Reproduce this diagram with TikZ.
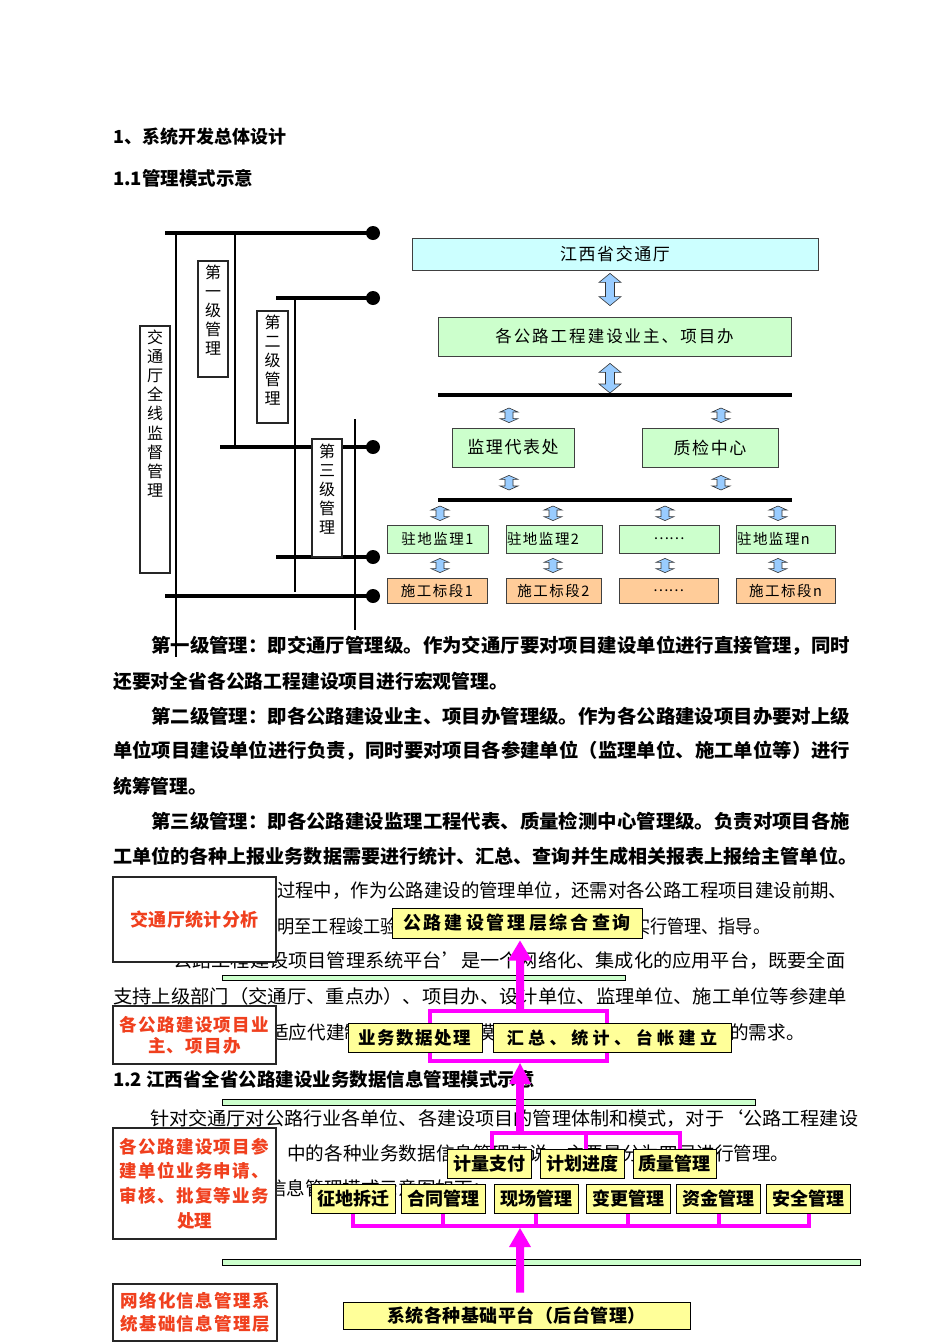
\documentclass[tikz,border=0pt]{standalone}
\usepackage{fontspec}
\setmainfont{Noto Sans CJK SC}
\usepackage{graphicx}
\usetikzlibrary{calc}
\pgfdeclarelayer{bot}
\pgfdeclarelayer{mid}
\pgfsetlayers{bot,mid,main}
\definecolor{cyanF}{HTML}{CCFFFF}
\definecolor{greenF}{HTML}{CCFFCC}
\definecolor{orangeF}{HTML}{FFCC99}
\definecolor{blueA}{HTML}{99CCFF}
\definecolor{yellowF}{HTML}{FFFF99}
\definecolor{magentaL}{HTML}{FF00FF}
\definecolor{redT}{HTML}{F0401E}
\newcommand\fsz[1]{\fontsize{#1pt}{#1pt}\selectfont}
\newcommand\fitw[2]{\resizebox{#1pt}{\height}{#2}}
\ExplSyntaxOn
\NewDocumentCommand\Spaced{O{2pt}m}{\tl_map_inline:nn{#2}{##1\kern#1\relax}\kern-#1\relax}
\ExplSyntaxOff
\newcommand\bluearr[5]{\draw[barr] let \p1=#1, \p2=#2 in (\x1,\y1) -- (\x1+#3,\y1-#5) -- (\x1+#4,\y1-#5) -- (\x1+#4,\y2+#5) -- (\x1+#3,\y2+#5) -- (\x1,\y2) -- (\x1-#3,\y2+#5) -- (\x1-#4,\y2+#5) -- (\x1-#4,\y1-#5) -- (\x1-#3,\y1-#5) -- cycle;}
\newcommand\magarr[5]{\fill[magentaL] let \p1=#1, \p2=#2 in (\x1,\y1) -- (\x1+#3,\y1-#4) -- (\x1+#5,\y1-#4) -- (\x1+#5,\y2) -- (\x1-#5,\y2) -- (\x1-#5,\y1-#4) -- (\x1-#3,\y1-#4) -- cycle;}
\tikzset{
  barr/.style={fill=blueA, draw=black!80, line width=0.6pt, line join=miter},
  bus/.style={line width=4pt},
  thinl/.style={line width=1.1pt},
  vbox/.style={draw=black!85, line width=1.3pt, fill=white, inner sep=0pt},
  vtxt/.style={inner sep=0pt, align=center, font=\fontsize{16pt}{19.2pt}\selectfont},
  ubox/.style={draw=black!75, line width=0.8pt, inner sep=0pt, font=\fsz{17}},
  zbox/.style={draw=black!75, line width=0.8pt, inner sep=0pt, minimum height=28pt, font=\fsz{14.5}, fill=greenF},
  sbox/.style={draw=black!75, line width=0.8pt, inner sep=0pt, minimum height=25pt, font=\fsz{14.5}, fill=orangeF},
  ybox/.style={draw=black, line width=1pt, fill=yellowF, inner sep=0pt, font=\bfseries\fsz{18}},
  wbox/.style={draw=black!85, line width=1.2pt, fill=white, inner sep=0pt, text=redT, align=center, minimum width=163pt},
  mline/.style={draw=magentaL, line width=4pt, line join=miter},
  gbar/.style={fill=greenF, draw=black, line width=0.7pt},
  txt/.style={inner sep=0pt, anchor=west},
  btxt/.style={txt, font=\bfseries\fsz{18.8}},
  rtxt/.style={txt, font=\fsz{18.6}}
}
\begin{document}
\begin{tikzpicture}[x=1pt,y=-1pt]
\useasboundingbox (0,0) rectangle (950,1344);

% ---------- text layer ----------
\begin{pgfonlayer}{bot}
\fill[white] (0,0) rectangle (950,1344);
\node[btxt] (m1) at (151,646) {\fitw{699}{第一级管理：即交通厅管理级。作为交通厅要对项目建设单位进行直接管理，同时}};
\node[btxt] (m2) at (113,681) {还要对全省各公路工程建设项目进行宏观管理。};
\node[btxt] (m3) at (151,716) {\fitw{699}{第二级管理：即各公路建设业主、项目办管理级。作为各公路建设项目办要对上级}};
\node[btxt] (m4) at (113,751) {\fitw{737}{单位项目建设单位进行负责，同时要对项目各参建单位（监理单位、施工单位等）进行}};
\node[btxt] (m5) at (113,786) {统筹管理。};
\node[btxt] (m6) at (151,821) {\fitw{699}{第三级管理：即各公路建设监理工程代表、质量检测中心管理级。负责对项目各施}};
\node[btxt] (m7) at (113,856) {\fitw{744}{工单位的各种上报业务数据需要进行统计、汇总、查询并生成相关报表上报给主管单位。}};

\node[rtxt] (n8) at (277,891) {\fitw{570}{过程中，作为公路建设的管理单位，还需对各公路工程项目建设前期、}};
\node[rtxt] (n9a) at (277,926) {\fitw{121}{明至工程竣工验}};
\node[rtxt] (n9b) at (633,926) {\fitw{137}{实行管理、指导。}};
\node[rtxt] (n10) at (173,961) {\fitw{672}{公路工程建设项目管理系统平台’是一个网络化、集成化的应用平台，既要全面}};
\node[rtxt] (n11) at (113,996) {\fitw{734}{支持上级部门（交通厅、重点办）、项目办、设计单位、监理单位、施工单位等参建单}};
\node[rtxt] (n12a) at (270,1032) {适应代建制};
\node[rtxt] (n12b) at (476,1032) {模};
\node[rtxt] (n12c) at (730,1032) {的需求。};
\node[txt, font=\bfseries\fsz{18.5}] (h3) at (113,1079) {1.2 江西省全省公路建设业务数据信息管理模式示意};
\node[rtxt] (n14) at (150,1119) {\fitw{708}{针对交通厅对公路行业各单位、各建设项目的管理体制和模式，对于‘公路工程建设}};
\node[rtxt] (n15) at (287,1154) {中的各种业务数据信息管理来说，主要是分为四层进行管理。};
\node[rtxt] (n16) at (268,1188) {信息管理模式示意图如下：};

\draw[gbar] (222,975) rectangle (625,980);
\draw[gbar] (222,1099) rectangle (755,1105);
\draw[gbar] (222,1259) rectangle (860,1265);
\end{pgfonlayer}

% ---------- headings ----------
\node[txt, font=\bfseries\fsz{18}] (h1) at (113,137) {1、系统开发总体设计};
\node[txt, font=\bfseries\fsz{18.5}] (h2) at (113,178) {1.1管理模式示意};

% ---------- upper left: levels ----------
\coordinate (w1) at (165,233); \coordinate (e1) at (373,233);
\coordinate (w2) at (276,298); \coordinate (e2) at (373,298);
\coordinate (w3) at (220,447); \coordinate (e3) at (373,447);
\coordinate (w4) at (276,557); \coordinate (e4) at (373,557);
\coordinate (w5) at (165,596); \coordinate (e5) at (373,596);
\coordinate (v1b) at (176,657);
\coordinate (v3b) at (295,592);
\coordinate (v4t) at (355,419); \coordinate (v4b) at (355,630);
\draw[thinl] (w1 -| v1b) -- (v1b);
\draw[thinl] (235,233) -- (235,447);
\draw[thinl] (w2 -| v3b) -- (v3b);
\draw[thinl] (v4t) -- (v4b);
\foreach \a in {1,...,5} {
  \draw[bus] (w\a) -- (e\a);
  \fill (e\a) circle (7pt);
}
\node[vbox, minimum width=30pt, minimum height=247pt] (vb0) at (155,449.5) {};
\node[vtxt, anchor=north] (vt0) at ($(vb0.north)+(0,4)$) {交\\通\\厅\\全\\线\\监\\督\\管\\理};
\node[vbox, minimum width=30pt, minimum height=116pt] (vb1) at (213,319) {};
\node[vtxt, anchor=north] (vt1) at ($(vb1.north)+(0,4)$) {第\\一\\级\\管\\理};
\node[vbox, minimum width=31pt, minimum height=112pt] (vb2) at (272.5,367) {};
\node[vtxt, anchor=north] (vt2) at ($(vb2.north)+(0,4)$) {第\\二\\级\\管\\理};
\node[vbox, minimum width=30pt, minimum height=118pt] (vb3) at (327,498) {};
\node[vtxt, anchor=north] (vt3) at ($(vb3.north)+(0,5)$) {第\\三\\级\\管\\理};

% ---------- upper right: organisation ----------
\node[ubox, fill=cyanF, minimum width=406pt, minimum height=32pt] (jxt) at (615,254) {\Spaced[1.6pt]{江西省交通厅}};
\node[ubox, fill=greenF, minimum width=353pt, minimum height=39pt, font=\fsz{16.5}] (gl) at (614.5,336.5) {\Spaced[2pt]{各公路工程建设业主、项目办}};
\coordinate (b1w) at (438,395); \coordinate (b1e) at (792,395);
\draw[bus] (b1w) -- (b1e);
\node[ubox, fill=greenF, minimum width=122pt, minimum height=39pt] (jlb) at (513,447.5) {\Spaced[1.6pt]{监理代表处}};
\node[ubox, fill=greenF, minimum width=136pt, minimum height=39pt] (zjz) at (710,447.5) {\Spaced[1.6pt]{质检中心}};
\coordinate (b2w) at (438,500); \coordinate (b2e) at (792,500);
\draw[bus] (b2w) -- (b2e);
\node[zbox, minimum width=101pt] (zd1) at (437.5,539) {\Spaced[1.5pt]{驻地监理1}};
\node[zbox, text width=94pt, inner xsep=1pt, align=left] (zd2) at (554,539) {\Spaced[1.5pt]{驻地监理2}};
\node[zbox, minimum width=100pt] (zd3) at (669,539) {……};
\node[zbox, text width=97pt, inner xsep=1pt, align=left] (zd4) at (785.5,539) {\Spaced[1.5pt]{驻地监理n}};
\node[sbox, minimum width=100pt] (sg1) at (437,590.5) {\Spaced[1.5pt]{施工标段1}};
\node[sbox, minimum width=95pt] (sg2) at (553.5,590.5) {\Spaced[1.5pt]{施工标段2}};
\node[sbox, minimum width=99pt] (sg3) at (668.5,590.5) {……};
\node[sbox, minimum width=99pt] (sg4) at (785.5,590.5) {\Spaced[1.5pt]{施工标段n}};

\bluearr{($(jxt.south -| 610,0)+(0,3)$)}{($(gl.north -| 610,0)+(0,-11)$)}{11pt}{4.5pt}{9pt}
\bluearr{($(gl.south -| 610,0)+(0,7)$)}{($(b1w -| 610,0)+(0,-2)$)}{11pt}{4.5pt}{9pt}
\foreach \xx/\bx in {509/jlb, 721/zjz} {
  \bluearr{($(b1w -| \xx,0)+(0,13)$)}{($(\bx.north -| \xx,0)+(0,-5)$)}{9pt}{4pt}{4pt}
  \bluearr{($(\bx.south -| \xx,0)+(0,8)$)}{($(b2w -| \xx,0)+(0,-10)$)}{9pt}{4pt}{4pt}
}
\foreach \xx/\i in {440/1, 553/2, 665/3, 778/4} {
  \bluearr{($(b2w -| \xx,0)+(0,6)$)}{($(zd\i.north -| \xx,0)+(0,-4)$)}{9pt}{4pt}{4pt}
  \bluearr{($(zd\i.south -| \xx,0)+(0,5)$)}{($(sg\i.north -| \xx,0)+(0,-5)$)}{9pt}{4pt}{4pt}
}

% ---------- lower: layered data management ----------
\node[wbox, minimum height=85pt, font=\bfseries\fsz{18}] (c1) at (194.5,919.5) {\Spaced[0.4pt]{交通厅统计分析}};
\node[wbox, minimum height=58pt, font=\bfseries\fontsize{17.5pt}{21pt}\selectfont] (c2) at (194.5,1035) {\Spaced[1.3pt]{各公路建设项目业}\\\Spaced[1.3pt]{主、项目办}};
\node[wbox, minimum height=111pt, font=\bfseries\fontsize{17.5pt}{24.7pt}\selectfont] (c3) at (194.5,1183.5) {\Spaced[1.3pt]{各公路建设项目参}\\\Spaced[1.3pt]{建单位业务申请、}\\\Spaced[1.3pt]{审核、批复等业务}\\处理};
\node[wbox, minimum height=57pt, minimum width=164pt, font=\bfseries\fontsize{17.5pt}{23pt}\selectfont] (c4) at (195,1312.5) {\Spaced[1.3pt]{网络化信息管理系}\\\Spaced[1.3pt]{统基础信息管理层}};

\node[ybox, minimum width=250pt, minimum height=30pt] (q1) at (517,923) {\Spaced[3pt]{公路建设管理层综合查询}};
\node[ybox, minimum width=134pt, minimum height=29pt, font=\bfseries\fsz{17.5}] (y1) at (415,1037.5) {\Spaced[1.5pt]{业务数据处理}};
\node[ybox, minimum width=238pt, minimum height=29pt, font=\bfseries\fsz{17}] (y2) at (612,1037.5) {\Spaced[4.5pt]{汇总、统计、台帐建立}};
\node[ybox, minimum width=84pt, minimum height=29pt] (r1) at (489,1163.5) {计量支付};
\node[ybox, minimum width=84pt, minimum height=29pt] (r2) at (582,1163.5) {计划进度};
\node[ybox, minimum width=83pt, minimum height=29pt] (r3) at (674.5,1163.5) {质量管理};
\node[ybox, minimum width=84pt, minimum height=29pt] (s1) at (353,1198.5) {征地拆迁};
\node[ybox, minimum width=84pt, minimum height=29pt] (s2) at (443,1198.5) {合同管理};
\node[ybox, minimum width=84pt, minimum height=29pt] (s3) at (536,1198.5) {现场管理};
\node[ybox, minimum width=84pt, minimum height=29pt] (s4) at (628,1198.5) {变更管理};
\node[ybox, minimum width=84pt, minimum height=29pt] (s5) at (718.5,1198.5) {资金管理};
\node[ybox, minimum width=84pt, minimum height=29pt] (s6) at (808.5,1198.5) {安全管理};
\node[ybox, minimum width=347pt, minimum height=27pt] (sys) at (516.5,1315.5) {\Spaced[0.5pt]{系统各种基础平台（后台管理）}};

\begin{pgfonlayer}{mid}
\coordinate (k1a) at (430,1011); \coordinate (k1b) at (607,1061);
\draw[mline] (k1a) rectangle (k1b);
\magarr{($(q1.south -| 520,0)+(0,2)$)}{(k1a -| 520,0)}{12pt}{20pt}{4pt}
\coordinate (k2) at (520,1133);
\magarr{($(k1b -| 520,0)+(0,2)$)}{(k2)}{11pt}{21pt}{3.8pt}
\coordinate (r1t) at ($(r1.north)+(3,0)$);
\coordinate (r2t) at ($(r2.north)+(4,0)$);
\coordinate (r3t) at ($(r3.north)+(5,0)$);
\draw[mline] (r1t) -- (r1t |- k2) -- (r3t |- k2) -- (r3t);
\draw[mline] (r2t) -- (r2t |- k2);
\coordinate (k3) at (520,1226);
\draw[mline] (s1.south) -- (s1.south |- k3) -- (s6.south |- k3) -- (s6.south);
\foreach \i in {2,...,5} { \draw[mline] (s\i.south) -- (s\i.south |- k3); }
\magarr{($(k3)+(0,2)$)}{($(sys.north -| 520,0)+(0,-9)$)}{11pt}{19pt}{4pt}
\end{pgfonlayer}
\end{tikzpicture}
\end{document}
